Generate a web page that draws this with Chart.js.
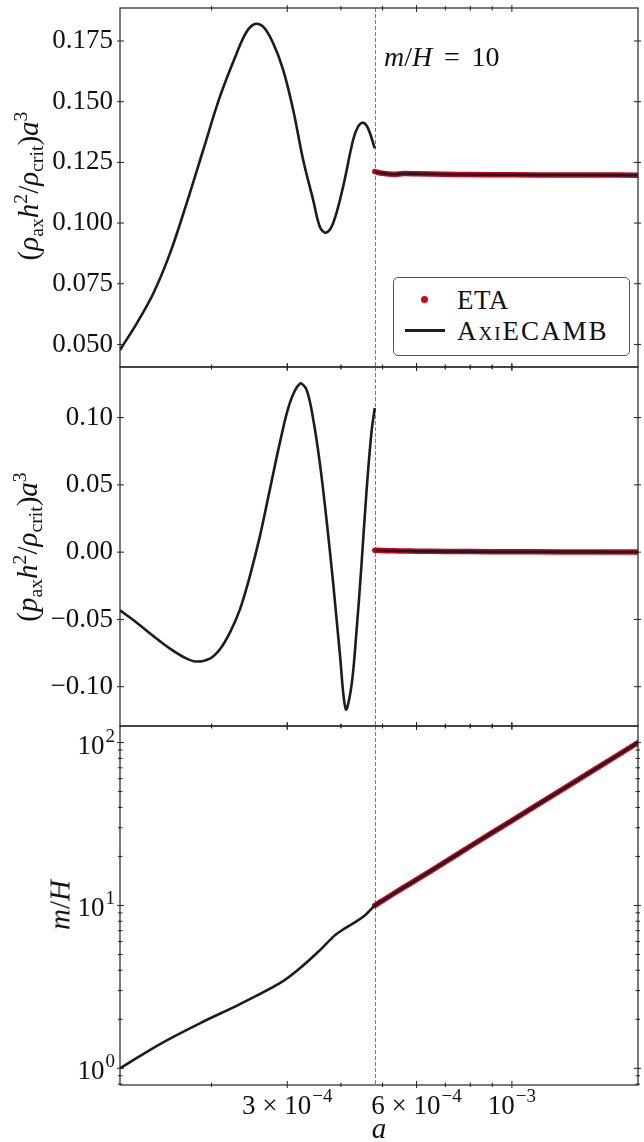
<!DOCTYPE html>
<html>
<head>
<meta charset="utf-8">
<script src="https://cdn.jsdelivr.net/npm/chart.js@4.4.1/dist/chart.umd.min.js"></script>
<style>
  html, body { margin: 0; padding: 0; background: #fff; }
  #wrap { position: relative; width: 644px; height: 1142px; overflow: hidden;
          font-family: "Liberation Serif", "DejaVu Serif", serif; color: #111; }
  canvas { position: absolute; left: 0; top: 0; }
  .lab { position: absolute; white-space: nowrap; line-height: 1; }
  .rot { transform: translate(-50%, -50%) rotate(-90deg); font-size: 29px; }
  .it { font-style: italic; }
  .lab sub { font-size: 0.68em; vertical-align: -0.28em; line-height: 0; }
  .lab sup { font-size: 0.68em; vertical-align: 0.55em; line-height: 0; }
  #legend { position: absolute; left: 393px; top: 277px; width: 237px; height: 79px;
            border: 1px solid #555; border-radius: 5px; box-sizing: border-box; background: #fff; }
  .lg-dot { position: absolute; left: 27px; top: 18px; width: 7px; height: 7px; border-radius: 50%; background: #d2001e; }
  .lg-line { position: absolute; left: 11px; top: 51px; width: 40px; height: 3px; background: #1c1c1c; }
  .lg-txt { position: absolute; left: 63px; font-size: 27px; line-height: 1; transform: translateY(-50%); }
  .sc { font-variant: small-caps; }
</style>
</head>
<body>
<div id="wrap">
  <canvas id="cRho" width="644" height="1142"></canvas>
  <canvas id="cP" width="644" height="1142"></canvas>
  <canvas id="cMH" width="644" height="1142"></canvas>

  <div class="lab rot" style="left:28px; top:186px;">(<span class="it">ρ</span><sub>ax</sub><span class="it">h</span><sup>2</sup>/<span class="it">ρ</span><sub>crit</sub>)<span class="it">a</span><sup>3</sup></div>
  <div class="lab rot" style="left:27px; top:547px;">(<span class="it">p</span><sub>ax</sub><span class="it">h</span><sup>2</sup>/<span class="it">ρ</span><sub>crit</sub>)<span class="it">a</span><sup>3</sup></div>
  <div class="lab rot" style="left:60px; top:905px;"><span class="it">m</span>/<span class="it">H</span></div>
  <div class="lab" style="left:379px; top:1128px; transform:translate(-50%,-50%); font-size:29px;"><span class="it">a</span></div>
  <div class="lab" style="left:384px; top:57px; transform:translateY(-50%); font-size:28px;"><span class="it">m</span>/<span class="it">H</span><span style="margin:0 0.42em;">=</span>10</div>

  <div id="legend">
    <div class="lg-dot"></div>
    <div class="lg-txt" style="top:22px; letter-spacing:0.5px;">ETA</div>
    <div class="lg-line"></div>
    <div class="lg-txt" style="top:53px; letter-spacing:2px;">A<span class="sc">xi</span>ECAMB</div>
  </div>
</div>

<script>
// ---- scale factor where the field switches to the effective description (m/H = 10)
const aSwitch = 4.795e-4;
const aMin = 1.224e-4;
const aMax = 1.966e-3;

// ---- AxiECAMB, energy density (top panel), before the switch
const aRhoEarly = [1.224e-4, 1.339e-4, 1.463e-4, 1.600e-4, 1.749e-4, 1.912e-4, 2.091e-4, 2.287e-4, 2.413e-4,
                   2.522e-4, 2.637e-4, 2.782e-4, 2.935e-4, 3.097e-4, 3.267e-4, 3.447e-4, 3.572e-4, 3.689e-4,
                   3.836e-4, 4.047e-4, 4.269e-4, 4.385e-4, 4.504e-4, 4.626e-4, 4.795e-4];
const rhoEarly = [0.0477, 0.0587, 0.0710, 0.0875, 0.1081, 0.1301, 0.1521, 0.1699, 0.1788,
                  0.1820, 0.1809, 0.1741, 0.1631, 0.1466, 0.1260, 0.1095, 0.0985, 0.0960,
                  0.0999, 0.1150, 0.1342, 0.1397, 0.1413, 0.1390, 0.1308];

// ---- AxiECAMB, pressure (middle panel), before the switch
const aPEarly = [1.224e-4, 1.339e-4, 1.463e-4, 1.600e-4, 1.749e-4, 1.852e-4, 1.982e-4, 2.091e-4, 2.206e-4, 2.328e-4,
                 2.455e-4, 2.591e-4, 2.733e-4, 2.883e-4, 3.041e-4, 3.209e-4, 3.326e-4, 3.447e-4, 3.572e-4, 3.702e-4,
                 3.836e-4, 3.975e-4, 4.105e-4, 4.232e-4, 4.346e-4, 4.464e-4, 4.585e-4, 4.710e-4, 4.795e-4];
const pEarly = [-0.0432, -0.0524, -0.0623, -0.0717, -0.0791, -0.0813, -0.0791, -0.0722, -0.0598, -0.0425,
                -0.0178, 0.0119, 0.0466, 0.0812, 0.1108, 0.1252, 0.1208, 0.0990, 0.0663, 0.0243,
                -0.0227, -0.0747, -0.1167, -0.0994, -0.0598, -0.0103, 0.0441, 0.0886, 0.1071];

// ---- AxiECAMB, m/H (bottom panel), before the switch
const aMHEarly = [1.224e-4, 1.517e-4, 1.878e-4, 2.328e-4, 2.883e-4, 3.209e-4, 3.572e-4, 3.871e-4, 4.084e-4,
                  4.309e-4, 4.546e-4, 4.795e-4];
const mHEarly = [1.00, 1.41, 1.89, 2.48, 3.33, 4.11, 5.30, 6.55, 7.23, 7.87, 8.68, 10.0];

// ---- after the switch: ETA and AxiECAMB agree
const aLate = [4.795e-4, 5.0e-4, 5.3e-4, 5.6e-4, 6.0e-4, 7.0e-4, 8.0e-4, 1.0e-3, 1.3e-3, 1.6e-3, 1.966e-3];
const rhoLate = [0.1212, 0.1205, 0.1201, 0.1204, 0.1203, 0.1201, 0.1200, 0.1199, 0.1198, 0.1198, 0.1197];
const pLate = [0.0015, 0.0012, 0.0010, 0.0009, 0.0007, 0.0005, 0.0004, 0.0003, 0.0002, 0.0002, 0.0001];
const mHLate = [10.0, 10.7, 11.8, 12.9, 14.4, 18.5, 23.1, 33.2, 50.9, 71.4, 100];

// ---- ticks
const xMajor = [3e-4, 6e-4, 1e-3];
const xMajorLabels = [['3 × 10', '−4'], ['6 × 10', '−4'], ['10', '−3']];
const xMinor = [2e-4, 4e-4, 5e-4, 7e-4, 8e-4, 9e-4];
const yRhoTicks = [0.050, 0.075, 0.100, 0.125, 0.150, 0.175];
const yPTicks = [-0.10, -0.05, 0.00, 0.05, 0.10];
const yMHMajor = [1, 10, 100];
const yMHLabels = [['10', '0'], ['10', '1'], ['10', '2']];
const yMHMinor = [0.8, 0.9, 2, 3, 4, 5, 6, 7, 8, 9, 20, 30, 40, 50, 60, 70, 80, 90];

const FONT = '"Liberation Serif", "DejaVu Serif", serif';
const INK = '#111';
const LINE = '#1c1c1c';
const RED = '#d2001e';

const pts = (xs, ys) => xs.map((x, i) => ({ x, y: ys[i] }));

function axiLine(xs, ys) {
  return { data: pts(xs, ys), borderColor: LINE, borderWidth: 2.6, pointRadius: 0,
           tension: 0.35, fill: false, borderCapStyle: 'butt' };
}
function etaBand(xs, ys) {
  return { data: pts(xs, ys), borderColor: RED, borderWidth: 5.5, pointRadius: 0,
           tension: 0.35, fill: false, borderCapStyle: 'round' };
}

function drawPow(ctx, base, exp, x, yBase, align) {
  ctx.font = '27px ' + FONT;
  const wb = ctx.measureText(base).width;
  ctx.font = '19px ' + FONT;
  const we = ctx.measureText(exp).width;
  const total = wb + 1 + we;
  const x0 = align === 'center' ? x - total / 2 : x - total;
  ctx.textAlign = 'left';
  ctx.textBaseline = 'alphabetic';
  ctx.fillStyle = INK;
  ctx.font = '27px ' + FONT;
  ctx.fillText(base, x0, yBase);
  ctx.font = '19px ' + FONT;
  ctx.fillText(exp, x0 + wb + 1, yBase - 12);
}

// frame, in-out tick marks, the switch marker and hand-set power labels
const panelFrame = {
  id: 'panelFrame',
  beforeDatasetsDraw(chart) {
    const { ctx, chartArea: c, scales: { x } } = chart;
    const px = Math.round(x.getPixelForValue(aSwitch)) + 0.5;
    ctx.save();
    ctx.strokeStyle = '#7c7c7c';
    ctx.lineWidth = 1;
    ctx.setLineDash([4, 2]);
    ctx.beginPath();
    ctx.moveTo(px, c.top);
    ctx.lineTo(px, c.bottom);
    ctx.stroke();
    ctx.restore();
  },
  afterDatasetsDraw(chart, args, o) {
    const { ctx, chartArea: c, scales: { x, y } } = chart;
    ctx.save();
    ctx.strokeStyle = '#222';
    ctx.lineWidth = 1.2;
    ctx.strokeRect(c.left, c.top, c.right - c.left, c.bottom - c.top);

    const tickX = (v, out, inn) => {
      const p = x.getPixelForValue(v);
      ctx.beginPath();
      ctx.moveTo(p, c.top - out); ctx.lineTo(p, c.top + inn);
      ctx.moveTo(p, c.bottom + out); ctx.lineTo(p, c.bottom - inn);
      ctx.stroke();
    };
    const tickY = (v, out, inn) => {
      const p = y.getPixelForValue(v);
      if (p < c.top - 0.5 || p > c.bottom + 0.5) return;
      ctx.beginPath();
      ctx.moveTo(c.left - out, p); ctx.lineTo(c.left + inn, p);
      ctx.moveTo(c.right + out, p); ctx.lineTo(c.right - inn, p);
      ctx.stroke();
    };
    ctx.lineWidth = 1;
    xMajor.forEach(v => tickX(v, 3, 4));
    xMinor.forEach(v => tickX(v, 2, 2.5));
    (o.yMajor || []).forEach(v => tickY(v, 3, 4));
    (o.yMinor || []).forEach(v => tickY(v, 2, 2.5));

    if (o.powerLabels) {
      xMajor.forEach((v, i) => drawPow(ctx, xMajorLabels[i][0], xMajorLabels[i][1],
                                       x.getPixelForValue(v), c.bottom + 29, 'center'));
      yMHMajor.forEach((v, i) => drawPow(ctx, yMHLabels[i][0], yMHLabels[i][1],
                                         c.left - 5, y.getPixelForValue(v) + 11, 'right'));
    }
    ctx.restore();
  }
};

// the y axis is given a fixed width and no label overhang, so every panel shares the same plot box
function fixY(s) {
  s.width = 120;
  s.paddingTop = 0; s.paddingBottom = 0; s.paddingLeft = 0; s.paddingRight = 0;
}

function makePanel(id, padding, yScale, datasets, frame, showX) {
  return new Chart(document.getElementById(id), {
    type: 'line',
    data: { datasets },
    options: {
      responsive: false,
      animation: false,
      devicePixelRatio: 1,
      events: [],
      layout: { padding },
      scales: {
        x: {
          type: 'logarithmic', min: aMin, max: aMax, display: showX,
          grid: { display: false, drawTicks: false }, border: { display: false }, ticks: { display: false },
          afterFit: s => {
            s.height = showX ? 57 : 0;
            s.paddingLeft = 0; s.paddingRight = 0;
          }
        },
        y: yScale
      },
      plugins: { legend: { display: false }, tooltip: { enabled: false }, panelFrame: frame }
    },
    plugins: [panelFrame]
  });
}

function linearY(min, max, ticks, digits) {
  return {
    type: 'linear', min, max, position: 'left',
    grid: { display: false, drawTicks: false }, border: { display: false },
    ticks: {
      padding: 7, color: INK, autoSkip: false,
      font: { family: FONT, size: 27 },
      callback: v => {
        const s = Math.abs(v) < 1e-12 ? (0).toFixed(digits) : v.toFixed(digits);
        return s.replace('-', '−');
      }
    },
    afterBuildTicks: s => { s.ticks = ticks.map(v => ({ value: v })); },
    afterFit: fixY
  };
}

// top: energy density
makePanel('cRho', { left: 0, top: 8, right: 6, bottom: 775 },
  linearY(0.0407, 0.1886, yRhoTicks, 3),
  [axiLine(aRhoEarly, rhoEarly), axiLine(aLate, rhoLate), etaBand(aLate, rhoLate)],
  { yMajor: yRhoTicks }, false);

// middle: pressure
makePanel('cP', { left: 0, top: 367, right: 6, bottom: 416 },
  linearY(-0.1292, 0.1376, yPTicks, 2),
  [axiLine(aPEarly, pEarly), axiLine(aLate, pLate), etaBand(aLate, pLate)],
  { yMajor: yPTicks }, false);

// bottom: m/H
makePanel('cMH', { left: 0, top: 726, right: 6, bottom: 0 },
  {
    type: 'logarithmic', min: 0.79, max: 126.4, position: 'left',
    grid: { display: false, drawTicks: false }, border: { display: false }, ticks: { display: false },
    afterFit: fixY
  },
  [axiLine(aMHEarly, mHEarly), axiLine(aLate, mHLate), etaBand(aLate, mHLate)],
  { yMajor: yMHMajor, yMinor: yMHMinor, powerLabels: true }, true);
</script>
</body>
</html>
